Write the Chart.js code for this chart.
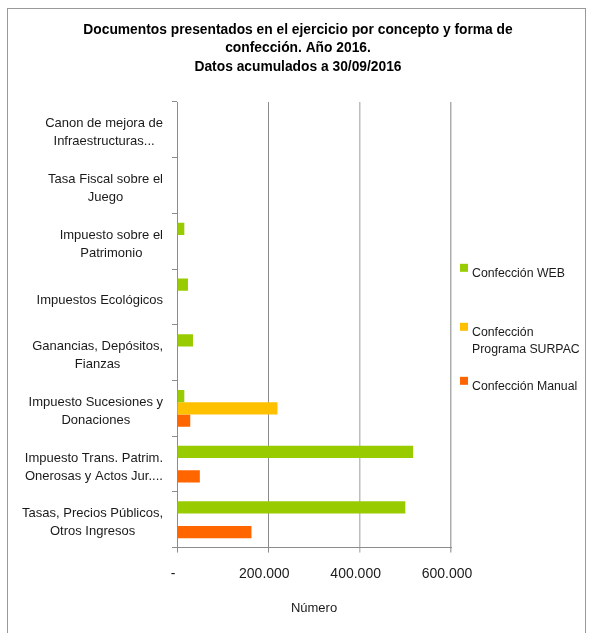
<!DOCTYPE html>
<html>
<head>
<meta charset="utf-8">
<script src="https://cdn.jsdelivr.net/npm/chart.js@4.4.1/dist/chart.umd.min.js"></script>
<style>
  html, body { margin: 0; padding: 0; background: #fff; }
  #wrap { position: relative; width: 589px; height: 633px; }
  #frame { position: absolute; left: 7px; top: 8px; width: 579px; height: 640px; border: 1px solid #999; box-sizing: border-box; }
  canvas { position: absolute; left: 0; top: 0; }
</style>
</head>
<body>
<div id="wrap">
  <div id="frame"></div>
  <canvas id="chart" width="589" height="633"></canvas>
</div>
<script>
const FONT = "'Liberation Sans', Arial, sans-serif";

const categories = [
  ['Canon de mejora de', 'Infraestructuras...'],
  ['Tasa Fiscal sobre el', 'Juego'],
  ['Impuesto sobre el', 'Patrimonio'],
  ['Impuestos Ecológicos'],
  ['Ganancias, Depósitos,', 'Fianzas'],
  ['Impuesto Sucesiones y', 'Donaciones'],
  ['Impuesto Trans. Patrim.', 'Onerosas y Actos Jur....'],
  ['Tasas, Precios Públicos,', 'Otros Ingresos']
];

const seriesNames = [['Confección WEB'], ['Confección', 'Programa SURPAC'], ['Confección Manual']];
const seriesColors = ['#99CC00', '#FFC000', '#FF6600'];

const webValues = [0, 0, 16000, 24000, 35000, 16000, 517000, 500000];
const surpacValues = [0, 0, 0, 0, 0, 220000, 0, 0];
const manualValues = [0, 0, 0, 0, 0, 29000, 50000, 163000];

const xTicks = [0, 200000, 400000, 600000];

const titleLines = [
  'Documentos presentados en el ejercicio por concepto y forma de',
  'confección. Año 2016.',
  'Datos acumulados a 30/09/2016'
];

function formatNumber(v) {
  if (v === 0) return '-';
  return String(v).replace(/\B(?=(\d{3})+(?!\d))/g, '.');
}

// titulo centrado sobre todo el grafico (no solo la zona de datos)
const titlePlugin = {
  id: 'bigTitle',
  afterDraw(chart) {
    const ctx = chart.ctx;
    ctx.save();
    ctx.font = 'bold 13.8px ' + FONT;
    ctx.fillStyle = '#000';
    ctx.textAlign = 'center';
    ctx.textBaseline = 'middle';
    titleLines.forEach((l, i) => ctx.fillText(l, 298, 30 + i * 18.5));
    ctx.restore();
  }
};

// etiquetas del eje y: bloque alineado a la derecha, lineas centradas
const yLabelsPlugin = {
  id: 'yLabels',
  afterDraw(chart) {
    const ctx = chart.ctx;
    const y = chart.scales.y;
    const rightEdge = y.right - 14;
    ctx.save();
    ctx.font = '13px ' + FONT;
    ctx.fillStyle = '#1a1a1a';
    ctx.textAlign = 'center';
    ctx.textBaseline = 'middle';
    categories.forEach((lines, i) => {
      const cy = y.getPixelForValue(i) + 3;
      const w = Math.max(...lines.map(l => ctx.measureText(l).width));
      const cx = rightEdge - w / 2;
      const lh = 18;
      const top = cy - (lines.length - 1) * lh / 2;
      lines.forEach((l, j) => ctx.fillText(l, cx, top + j * lh));
    });
    ctx.restore();
  }
};

const legendPlugin = {
  id: 'sideLegend',
  afterDraw(chart) {
    const ctx = chart.ctx;
    const area = chart.chartArea;
    const mid = (area.top + area.bottom) / 2;
    const x = area.right + 9;
    const baselines = [mid - 48, mid + 11, mid + 65];
    ctx.save();
    ctx.font = '12.3px ' + FONT;
    ctx.textBaseline = 'alphabetic';
    ctx.textAlign = 'left';
    seriesNames.forEach((lines, i) => {
      const b = baselines[i];
      ctx.fillStyle = seriesColors[i];
      ctx.fillRect(x, b - 13, 8, 8);
      ctx.fillStyle = '#1a1a1a';
      lines.forEach((l, j) => ctx.fillText(l, x + 12, b + j * 17));
    });
    ctx.restore();
  }
};

const gridColors = ['#8c8c8c', '#8c8c8c', '#bdbdbd', '#adadad'];

new Chart(document.getElementById('chart'), {
  type: 'bar',
  data: {
    labels: categories.map(c => c.join(' ')),
    datasets: [
      { label: seriesNames[0].join(' '), data: webValues, backgroundColor: seriesColors[0] },
      { label: seriesNames[1].join(' '), data: surpacValues, backgroundColor: seriesColors[1] },
      { label: seriesNames[2].join(' '), data: manualValues, backgroundColor: seriesColors[2] }
    ]
  },
  options: {
    indexAxis: 'y',
    responsive: false,
    animation: false,
    categoryPercentage: 0.66,
    barPercentage: 1,
    layout: { padding: { left: 7, right: 138, top: 102, bottom: 17 } },
    plugins: {
      legend: { display: false },
      tooltip: { enabled: false },
      title: { display: false }
    },
    scales: {
      x: {
        min: 0,
        max: 600000,
        afterBuildTicks(scale) { scale.ticks = xTicks.map(v => ({ value: v })); },
        grid: {
          color: ctx => gridColors[ctx.index] || '#8c8c8c',
          lineWidth: ctx => (ctx.index >= 2 ? 1.5 : 1),
          tickLength: 5
        },
        border: { color: '#8c8c8c' },
        ticks: { padding: 13, labelOffset: -4, color: '#1a1a1a', font: { family: FONT, size: 14 }, callback: v => formatNumber(v) },
        title: { display: true, text: 'Número', color: '#1a1a1a', font: { family: FONT, size: 13 }, padding: { top: 5, bottom: 0 } }
      },
      y: {
        grid: { drawOnChartArea: false, offset: true, tickLength: 5, color: '#8c8c8c' },
        border: { color: '#8c8c8c' },
        ticks: { display: false },
        afterFit(scale) { scale.width = 170; }
      }
    }
  },
  plugins: [yLabelsPlugin, legendPlugin, titlePlugin]
});
</script>
</body>
</html>
